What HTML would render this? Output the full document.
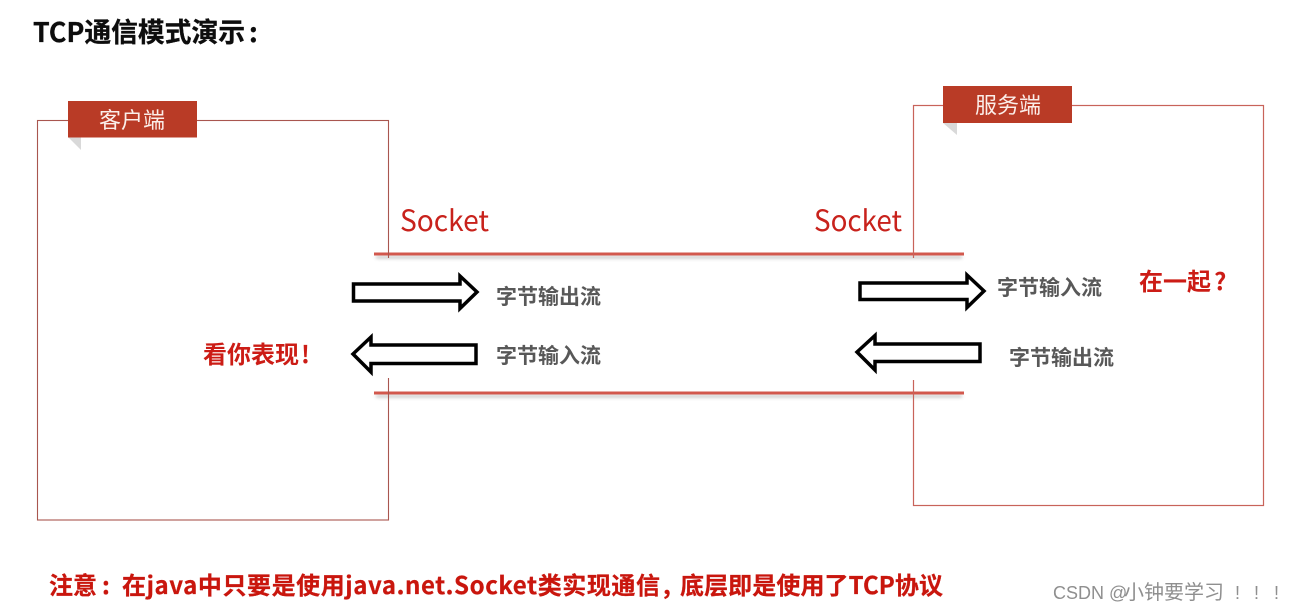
<!DOCTYPE html>
<html>
<head>
<meta charset="utf-8">
<style>
html,body{margin:0;padding:0;background:#fff;width:1292px;height:611px;overflow:hidden}
svg{display:block}
text{font-family:"Noto Sans CJK SC","Liberation Sans",sans-serif}
.g{font-size:21px;font-weight:700;fill:#595959}
.s{font-size:29px;fill:#c8201a}
.r{font-size:24px;font-weight:700;fill:#cc1f14}
.n{font-size:24px;font-weight:700;fill:#c9150c;stroke:#c9150c;stroke-width:.25}
.w{fill:#8f8f8f}
.w2{font-family:"Liberation Sans",sans-serif;font-size:18px;fill:#8f8f8f}
</style>
</head>
<body>
<svg width="1292" height="611" viewBox="0 0 1292 611" xmlns="http://www.w3.org/2000/svg">
<defs>
<filter id="b" x="-5%" y="-5%" width="110%" height="110%"><feGaussianBlur stdDeviation="0.35"/></filter>
<filter id="sh" x="-2%" y="-200%" width="104%" height="500%"><feGaussianBlur stdDeviation="1.5"/></filter>
</defs>
<rect width="1292" height="611" fill="#fff"/>
<g filter="url(#b)">
<!-- boxes -->
<rect x="37.5" y="120.5" width="351" height="399.5" fill="none" stroke="#a9574f" stroke-width="1.1"/>
<rect x="913.5" y="105.5" width="350" height="400" fill="none" stroke="#c8645a" stroke-width="1.2"/>
<!-- overlay gaps -->
<rect x="380" y="258" width="16" height="120" fill="#fff"/>
<rect x="905" y="258" width="16" height="122" fill="#fff"/>
<!-- tags -->
<polygon points="68,137 81,137 81,150" fill="#d9d9d9"/>
<rect x="68" y="101" width="129" height="36.500" fill="#b93a26"/>
<polygon points="943,123 957,123 957,135" fill="#d9d9d9"/>
<rect x="943" y="86" width="129" height="37" fill="#b93a26"/>
<!-- socket lines -->
<rect x="376" y="256" width="586" height="2.500" fill="#999" opacity=".6" filter="url(#sh)"/>
<rect x="376" y="395" width="586" height="2.500" fill="#999" opacity=".6" filter="url(#sh)"/>
<rect x="374" y="252.500" width="590" height="3" fill="#d2594e"/>
<rect x="374" y="391.500" width="590" height="3" fill="#d2594e"/>
<line x1="388.500" y1="200" x2="388.500" y2="258" stroke="#a9574f"/>
<line x1="388.500" y1="378" x2="388.500" y2="410" stroke="#a9574f"/>
<line x1="913.500" y1="200" x2="913.500" y2="258" stroke="#c8645a"/>
<line x1="913.500" y1="380" x2="913.500" y2="410" stroke="#c8645a"/>
<!-- arrows -->
<g fill="#fff" stroke="#000" stroke-width="3.500">
<polygon points="353.500,284 460,284 460,276 477,292 460,308.500 460,301 353.500,301"/>
<polygon points="476,345 371,345 371,337 353,354 371,372 371,363.500 476,363.500"/>
<polygon points="860,283 967,283 967,275 984,291 967,307.500 967,299.500 860,299.500"/>
<polygon points="980,344 875,344 875,335.500 857,352 875,370 875,361.500 980,361.500"/>
</g>
<!-- text -->
<text x="33" y="42" font-size="27" font-weight="700" fill="#0a0a0a" stroke="#0a0a0a" stroke-width=".3" textLength="212" lengthAdjust="spacingAndGlyphs">TCP通信模式演示</text>
<text x="249" y="42" font-size="27" font-weight="700" fill="#0a0a0a" stroke="#0a0a0a" stroke-width=".3">:</text>
<text x="99" y="128" font-size="22" fill="#fbeee9">客户端</text>
<text x="975" y="113" font-size="22" fill="#fbeee9">服务端</text>
<text class="s" x="400" y="231" textLength="89" lengthAdjust="spacingAndGlyphs">Socket</text>
<text class="s" x="814" y="231" textLength="88" lengthAdjust="spacingAndGlyphs">Socket</text>
<text class="g" x="496" y="304">字节输出流</text>
<text class="g" x="496" y="363">字节输入流</text>
<text class="g" x="997" y="295">字节输入流</text>
<text class="g" x="1009" y="365">字节输出流</text>
<text class="r" x="1139" y="290">在一起</text>
<text class="r" x="1214" y="290">?</text>
<text class="r" x="203" y="363">看你表现</text>
<text class="r" x="301" y="363">!</text>
<text class="n" x="49" y="594">注意</text>
<text class="n" x="102" y="594">:</text>
<text class="n" x="122" y="594" textLength="538" lengthAdjust="spacing">在java中只要是使用java.net.Socket类实现通信</text>
<text class="n" x="663" y="594">,</text>
<text class="n" x="680" y="594" textLength="263" lengthAdjust="spacing">底层即是使用了TCP协议</text>
<text class="w2" x="1053" y="599">CSDN @</text>
<text class="w" x="1124" y="599" font-size="20">小钟要学习</text>
<text class="w2" x="1235" y="599">!</text>
<text class="w2" x="1254" y="599">!</text>
<text class="w2" x="1274" y="599">!</text>
</g>
</svg>
</body>
</html>
